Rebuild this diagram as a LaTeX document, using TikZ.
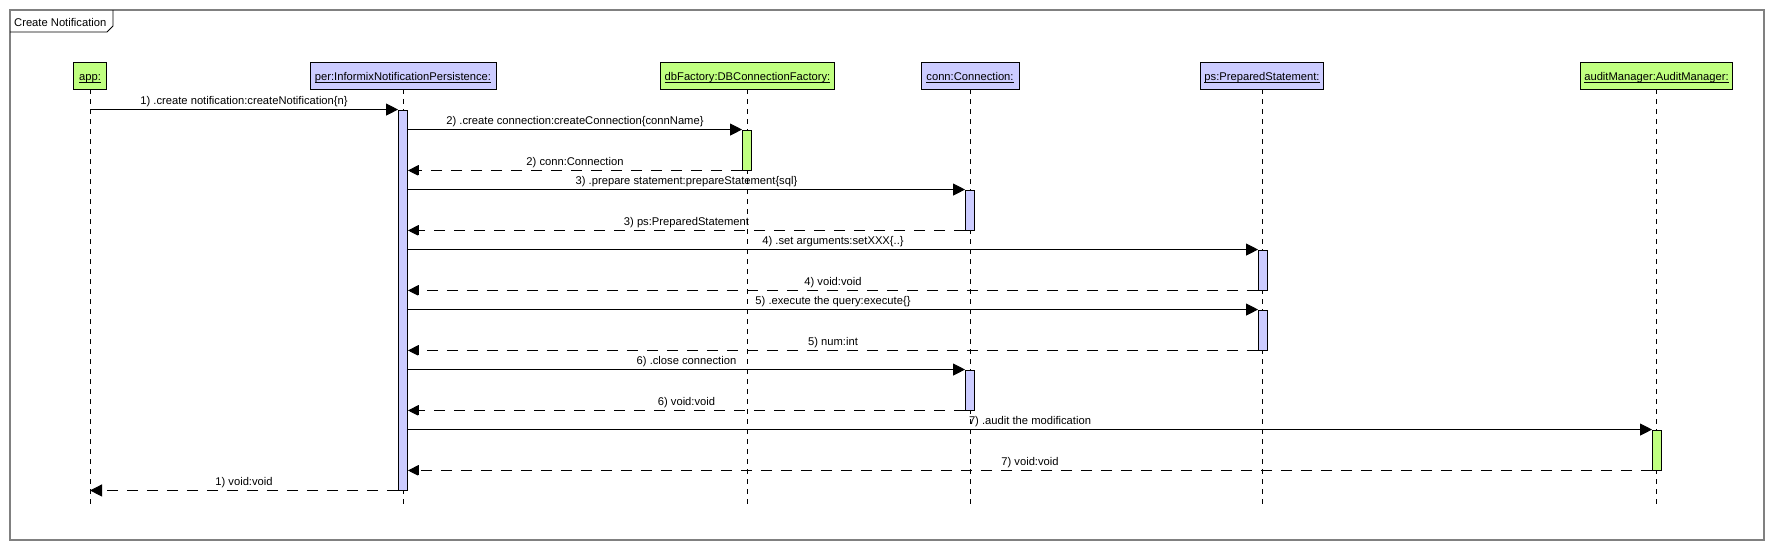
\documentclass[tikz,border=0pt]{standalone}
\usepackage{fontspec}
\setmainfont{Liberation Sans}
\usetikzlibrary{arrows.meta}
\definecolor{objgreen}{RGB}{192,255,128}
\definecolor{objblue}{RGB}{204,204,255}
\definecolor{framegray}{RGB}{128,128,128}
\newcommand\myul[1]{\setbox0\hbox{#1}\rlap{\rule[-1.8pt]{\wd0}{0.8pt}}\box0}
\begin{document}
\begin{tikzpicture}[x=1pt,y=-1pt,
  font=\fontsize{11.2}{13}\selectfont,
  obj/.style={draw=black, line width=0.9pt, minimum height=27pt, inner sep=0pt, text height=10pt, text depth=0pt},
  act/.style={draw=black, line width=0.9pt, minimum width=9pt, inner sep=0pt},
  lifeline/.style={line width=0.9pt, dash pattern=on 5pt off 5pt},
  msg/.style={line width=0.9pt, -{Triangle[length=12pt,width=12pt]}},
  ret/.style={line width=0.9pt, dash pattern=on 11pt off 9pt, -{Bar[width=10pt,sep=0pt]Triangle[length=10pt,width=10pt]}},
  retplain/.style={line width=0.9pt, dash pattern=on 11pt off 9pt, -{Triangle[length=12pt,width=12pt]}},
  lbl/.style={anchor=base, yshift=5pt, inner sep=0pt}]
\useasboundingbox (0,0) rectangle (1774,550);
% frame
\draw[framegray, line width=1.2pt] (10,10) rectangle (1764,540);
\node[anchor=base west, inner sep=0pt] (title) at (14,26) {Create Notification};
\draw[line width=0.8pt] (10,32) -- (107,32) -- (113,26) -- (113,10);
% objects
\node[obj, fill=objgreen, minimum width=33pt] (app) at (90,75.5) {\myul{app:}};
\node[obj, fill=objblue, minimum width=186pt] (per) at (403,75.5) {\myul{per:InformixNotificationPersistence:}};
\node[obj, fill=objgreen, minimum width=174pt] (dbf) at (747.5,75.5) {\myul{dbFactory:DBConnectionFactory:}};
\node[obj, fill=objblue, minimum width=98pt] (conn) at (970,75.5) {\myul{conn:Connection:}};
\node[obj, fill=objblue, minimum width=123pt] (ps) at (1262,75.5) {\myul{ps:PreparedStatement:}};
\node[obj, fill=objgreen, minimum width=152pt] (aud) at (1656.5,75.5) {\myul{auditManager:AuditManager:}};
% lifelines
\coordinate (llend) at (0,507);
\foreach \n in {app,per,dbf,conn,ps,aud} \draw[lifeline] (\n.south) -- (\n.south |- llend);
% activations
\node[act, fill=objblue, minimum height=380pt] (aper) at (403,300) {};
\node[act, fill=objgreen, minimum height=40pt] (adb) at (747,150) {};
\node[act, fill=objblue, minimum height=40pt] (ac1) at (970,210) {};
\node[act, fill=objblue, minimum height=40pt] (aps1) at (1263,270) {};
\node[act, fill=objblue, minimum height=40pt] (aps2) at (1263,330) {};
\node[act, fill=objblue, minimum height=40pt] (ac2) at (970,390) {};
\node[act, fill=objgreen, minimum height=40pt] (aau) at (1657,450) {};
% messages
\draw[msg] (app.south |- aper.north) -- (aper.north west) node[lbl, midway] {1) .create notification:createNotification\{n\}};
\draw[msg] (aper.east |- adb.north) -- (adb.north west) node[lbl, midway] {2) .create connection:createConnection\{connName\}};
\draw[ret] (adb.south west) -- (aper.east |- adb.south) node[lbl, midway] {2) conn:Connection};
\draw[msg] (aper.east |- ac1.north) -- (ac1.north west) node[lbl, midway] {3) .prepare statement:prepareStatement\{sql\}};
\draw[ret] (ac1.south west) -- (aper.east |- ac1.south) node[lbl, midway] {3) ps:PreparedStatement};
\draw[msg] (aper.east |- aps1.north) -- (aps1.north west) node[lbl, midway] {4) .set arguments:setXXX\{..\}};
\draw[ret] (aps1.south west) -- (aper.east |- aps1.south) node[lbl, midway] {4) void:void};
\draw[msg] (aper.east |- aps2.north) -- (aps2.north west) node[lbl, midway] {5) .execute the query:execute\{\}};
\draw[ret] (aps2.south west) -- (aper.east |- aps2.south) node[lbl, midway] {5) num:int};
\draw[msg] (aper.east |- ac2.north) -- (ac2.north west) node[lbl, midway] {6) .close connection};
\draw[ret] (ac2.south west) -- (aper.east |- ac2.south) node[lbl, midway] {6) void:void};
\draw[msg] (aper.east |- aau.north) -- (aau.north west) node[lbl, midway] {7) .audit the modification};
\draw[ret] (aau.south west) -- (aper.east |- aau.south) node[lbl, midway] {7) void:void};
\draw[retplain] (aper.south west) -- (app.south |- aper.south) node[lbl, midway] {1) void:void};
\end{tikzpicture}
\end{document}
